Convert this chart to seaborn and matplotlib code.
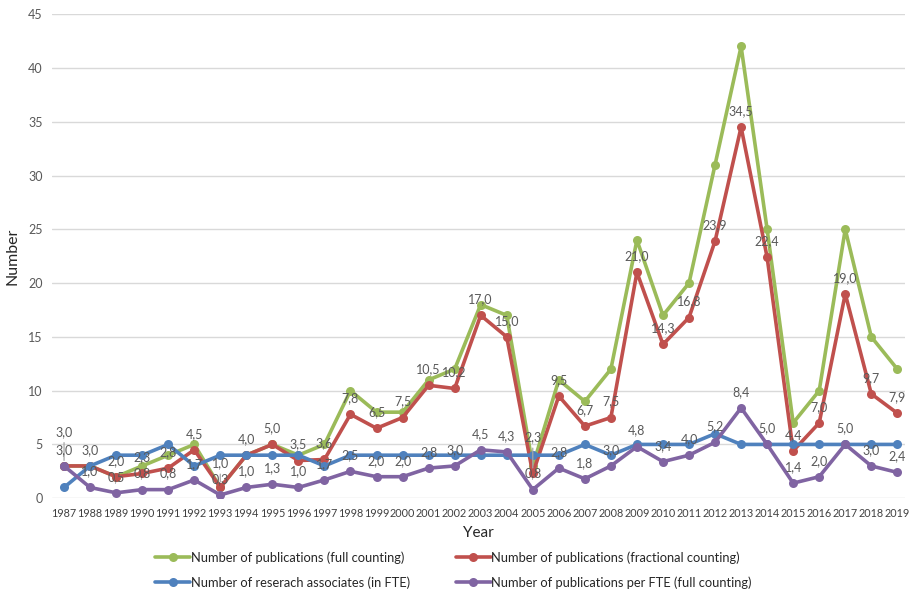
import matplotlib
matplotlib.use("Agg")
import matplotlib.pyplot as plt
import seaborn as sns
import pandas as pd

years = list(range(1987, 2020))

pubs_full = [3, 3, 2, 3, 4, 5, 1, 4, 5, 4, 5, 10, 8, 8, 11, 12, 18, 17, 3, 11,
             9, 12, 24, 17, 20, 31, 42, 25, 7, 10, 25, 15, 12]
pubs_fractional = [3.0, 3.0, 2.0, 2.3, 2.8, 4.5, 1.0, 4.0, 5.0, 3.5, 3.6, 7.8, 6.5,
                   7.5, 10.5, 10.2, 17.0, 15.0, 2.3, 9.5, 6.7, 7.5, 21.0, 14.3,
                   16.8, 23.9, 34.5, 22.4, 4.4, 7.0, 19.0, 9.7, 7.9]
associates_fte = [1, 3, 4, 4, 5, 3, 4, 4, 4, 4, 3, 4, 4, 4, 4, 4, 4, 4, 4, 4,
                  5, 4, 5, 5, 5, 6, 5, 5, 5, 5, 5, 5, 5]
pubs_per_fte = [3.0, 1.0, 0.5, 0.8, 0.8, 1.7, 0.3, 1.0, 1.3, 1.0, 1.7, 2.5, 2.0,
                2.0, 2.8, 3.0, 4.5, 4.3, 0.8, 2.8, 1.8, 3.0, 4.8, 3.4, 4.0, 5.2,
                8.4, 5.0, 1.4, 2.0, 5.0, 3.0, 2.4]

series_names = [
    "Number of publications (full counting)",
    "Number of publications (fractional counting)",
    "Number of reserach associates (in FTE)",
    "Number of publications per FTE (full counting)",
]
series_values = [pubs_full, pubs_fractional, associates_fte, pubs_per_fte]
series_colors = ["#9BBB59", "#C0504D", "#4F81BD", "#8064A2"]

y_ticks = list(range(0, 50, 5))

sns.set_theme(style="white")
plt.rcParams["font.family"] = ["Lato", "DejaVu Sans"]

W, H = 918, 591
fig = plt.figure(figsize=(W / 100, H / 100), dpi=100)
ax = fig.add_axes([0.057, 0.157, 0.929, 0.819])

for name, vals, col in zip(series_names, series_values, series_colors):
    df = pd.DataFrame({"Year": years, "Value": vals})
    sns.lineplot(data=df, x="Year", y="Value", ax=ax, color=col, label=name,
                 marker="o", markersize=6.5, markeredgewidth=0, linewidth=2.6)

# value labels for the fractional-count and per-FTE series;
# a few crowded fractional labels are lifted and tied back with a leader line
label_color = "#595959"
leader_lift_px = {1987: 34, 1993: 24, 2005: 36}
for vals in (pubs_fractional, pubs_per_fte):
    for yr, v in zip(years, vals):
        txt = f"{v:.1f}".replace(".", ",")
        if vals is pubs_fractional and yr in leader_lift_px:
            ax.annotate(txt, xy=(yr, v), xytext=(0, leader_lift_px[yr] * 0.72),
                        textcoords="offset points", ha="center", va="center",
                        fontsize=9, color=label_color,
                        arrowprops=dict(arrowstyle="-", color="#A6A6A6", lw=0.9,
                                        shrinkA=1, shrinkB=4))
        else:
            ax.annotate(txt, xy=(yr, v), xytext=(0, 11.5), textcoords="offset points",
                        ha="center", va="center", fontsize=9, color=label_color)

ax.set_xlim(1986.55, 2019.3)
ax.set_ylim(0, 45)
ax.set_yticks(y_ticks)
ax.set_xticks(years)
ax.set_xticklabels([str(y) for y in years], fontsize=7.8, color="#404040")
ax.set_yticklabels([str(t) for t in y_ticks], fontsize=9, color="#595959")
ax.tick_params(axis="both", length=0, pad=7)
ax.yaxis.grid(True, color="#D9D9D9", linewidth=1)
ax.set_axisbelow(True)
for s in ax.spines.values():
    s.set_visible(False)

ax.set_xlabel("Year", fontsize=11, color="#262626", labelpad=5)
ax.set_ylabel("Number", fontsize=11.5, color="#262626", labelpad=6)

handles, labels = ax.get_legend_handles_labels()
ax.get_legend().remove()
order = [0, 2, 1, 3]

# size the legend font so the first entry's text is about 215 px wide
renderer = fig.canvas.get_renderer()
probe = fig.text(0, 0, series_names[0], fontsize=10)
probe_w = probe.get_window_extent(renderer).width
probe.remove()
leg_fs = 10 * 215 / probe_w
em = leg_fs * 100 / 72
fig.legend([handles[i] for i in order], [labels[i] for i in order],
           ncol=2, loc="center left", bbox_to_anchor=(155 / W, 1 - 570 / H),
           frameon=False, fontsize=leg_fs, handlelength=35 / em,
           handletextpad=0.05, columnspacing=46 / em,
           labelspacing=(25 - em) / em, labelcolor="#262626",
           borderpad=0, borderaxespad=0)

fig.savefig("out.png", dpi=100)
